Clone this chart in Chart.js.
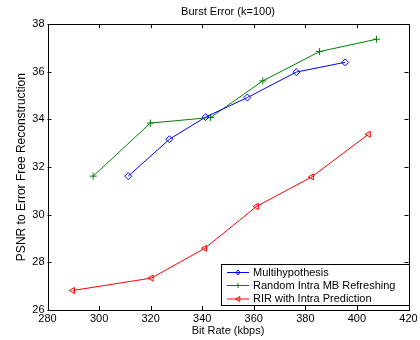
<!DOCTYPE html>
<html><head><meta charset="utf-8">
<script src="https://cdn.jsdelivr.net/npm/chart.js@4/dist/chart.umd.min.js"></script>
<style>html,body{margin:0;padding:0;background:#fff}#wrap{width:420px;height:340px;position:relative}</style>
</head><body><div id="wrap"><canvas id="c"></canvas></div>
<script>
const titleText = "Burst Error (k=100)";
const xTitle = "Bit Rate (kbps)";
const yTitle = "PSNR to Error Free Reconstruction";
const seriesNames = ["Multihypothesis", "Random Intra MB Refreshing", "RIR with Intra Prediction"];
const multiX = [311.3, 327.3, 341.3, 357.5, 376.5, 395.4];
const multiY = [31.62, 33.17, 34.10, 34.92, 35.99, 36.40];
const randX = [297.7, 319.9, 343.2, 363.5, 385.5, 407.6];
const randY = [31.62, 33.85, 34.08, 35.62, 36.85, 37.37];
const rirX = [289.8, 320.3, 341.0, 361.1, 382.5, 404.5];
const rirY = [26.82, 27.34, 28.59, 30.35, 31.59, 33.38];
const xTicks = [280, 300, 320, 340, 360, 380, 400, 420];
const yTicks = [26, 28, 30, 32, 34, 36, 38];

const FONT = "'Liberation Sans', Arial, Helvetica, sans-serif";
const colors = ["#0000ff", "#008000", "#ff0000"];
const styles = ["rectRot", "cross", "triangle"];
const rotations = [0, 0, -90];

function pts(xs, ys){ return xs.map((x,i)=>({x:x, y:ys[i]})); }

function drawMarker(ctx, style, x, y, r, color){
  ctx.save();
  ctx.strokeStyle = color; ctx.lineWidth = 1;
  ctx.beginPath();
  if (style === 'rectRot'){
    ctx.moveTo(x, y-r); ctx.lineTo(x+r*0.8, y); ctx.lineTo(x, y+r); ctx.lineTo(x-r*0.8, y); ctx.closePath();
  } else if (style === 'cross'){
    ctx.moveTo(x-r, y); ctx.lineTo(x+r, y); ctx.moveTo(x, y-r); ctx.lineTo(x, y+r);
  } else {
    ctx.moveTo(x-r, y); ctx.lineTo(x+r*0.7, y-r); ctx.lineTo(x+r*0.7, y+r); ctx.closePath();
  }
  ctx.stroke();
  ctx.restore();
}

const framePlugin = {
  id: 'frame',
  afterDatasetsDraw(chart){
    const ctx = chart.ctx, a = chart.chartArea;
    const xs = chart.scales.x, ys = chart.scales.y;
    ctx.save();
    ctx.strokeStyle = '#000'; ctx.lineWidth = 1;
    ctx.beginPath();
    const L = 4;
    xTicks.forEach(v=>{
      const px = Math.round(xs.getPixelForValue(v)) + 0.5;
      ctx.moveTo(px, a.bottom); ctx.lineTo(px, a.bottom - L);
      ctx.moveTo(px, a.top); ctx.lineTo(px, a.top + L);
    });
    yTicks.forEach(v=>{
      const py = Math.round(ys.getPixelForValue(v)) + 0.5;
      ctx.moveTo(a.left, py); ctx.lineTo(a.left + L, py);
      ctx.moveTo(a.right, py); ctx.lineTo(a.right - L, py);
    });
    ctx.stroke();
    const rx = Math.round(a.left)+0.5, ry = Math.round(a.top)+0.5;
    const rw = Math.round(a.right-a.left), rh = Math.round(a.bottom-a.top);
    ctx.strokeRect(rx, ry, rw, rh);
    // legend
    const bx = 221.5, by = 264.5, bw = rx + rw - bx, bh = 41;
    ctx.fillStyle = '#fff';
    ctx.fillRect(bx, by, bw, bh);
    ctx.strokeRect(bx, by, bw, bh);
    ctx.font = "11px " + FONT;
    ctx.textBaseline = 'middle';
    ctx.textAlign = 'left';
    const rowsY = [272.5, 285.5, 299];
    chart.data.datasets.forEach((ds, i)=>{
      const y = rowsY[i];
      ctx.strokeStyle = colors[i]; ctx.lineWidth = 1;
      ctx.beginPath(); ctx.moveTo(227, y); ctx.lineTo(249, y); ctx.stroke();
      drawMarker(ctx, styles[i], 238, y, 2.5, colors[i]);
      ctx.fillStyle = '#000';
      ctx.fillText(ds.label, 253, y);
    });
    ctx.restore();
  }
};

new Chart(document.getElementById('c'), {
  type: 'scatter',
  data: {
    datasets: [
      {label: seriesNames[0], data: pts(multiX, multiY)},
      {label: seriesNames[1], data: pts(randX, randY)},
      {label: seriesNames[2], data: pts(rirX, rirY)}
    ].map((d,i)=>Object.assign(d, {
      showLine: true, borderColor: colors[i], borderWidth: 1,
      pointStyle: styles[i], pointRotation: rotations[i], pointRadius: 3.5,
      pointBorderColor: colors[i], pointBackgroundColor: 'rgba(0,0,0,0)', pointBorderWidth: 1
    }))
  },
  options: {
    responsive: true, maintainAspectRatio: false, animation: false,
    layout: {padding: {left: 0, right: 11.5, top: 0, bottom: 0}},
    plugins: {
      legend: {display: false},
      tooltip: {enabled: false},
      title: {display: true, text: titleText, color: '#000', fullSize: false,
        font: {family: FONT, size: 11, weight: 'normal'}, padding: {top: 5, bottom: 6}}
    },
    scales: {
      x: {
        type: 'linear', min: 280, max: 420,
        afterBuildTicks: s => { s.ticks = xTicks.map(v=>({value:v})); },
        afterFit: s => { s.height = 30; },
        grid: {display: false, drawTicks: false}, border: {display: false},
        ticks: {color: '#000', font: {family: FONT, size: 11}, padding: 2, maxRotation: 0, autoSkip: false},
        title: {display: true, text: xTitle, color: '#000', font: {family: FONT, size: 11}, padding: {top: 0, bottom: 2}}
      },
      y: {
        type: 'linear', min: 26, max: 38,
        afterBuildTicks: s => { s.ticks = yTicks.map(v=>({value:v})); },
        afterFit: s => { s.width = 47.5; },
        grid: {display: false, drawTicks: false}, border: {display: false},
        ticks: {color: '#000', font: {family: FONT, size: 11}, padding: 3, autoSkip: false},
        title: {display: true, text: yTitle, color: '#000', font: {family: FONT, size: 12}, padding: {top: 14, bottom: 0}}
      }
    }
  },
  plugins: [framePlugin]
});
</script></body></html>
